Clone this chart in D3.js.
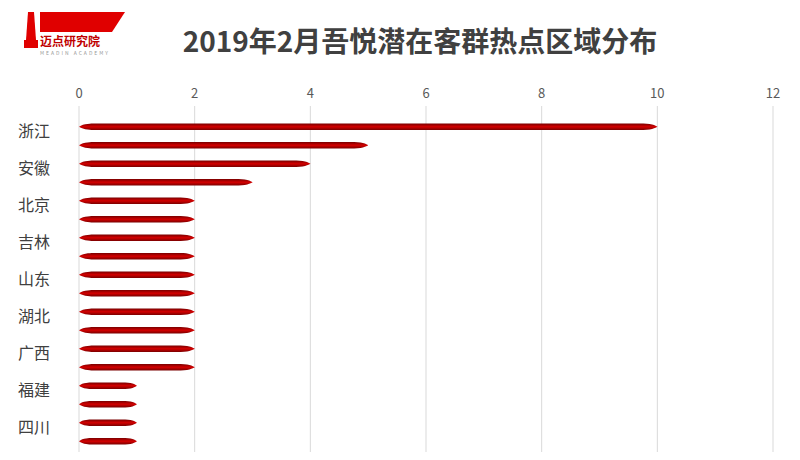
<!DOCTYPE html>
<html><head><meta charset="utf-8">
<script src="https://cdn.jsdelivr.net/npm/d3@7"></script>
<style>body{margin:0;background:#fff}svg{font-family:"Noto Sans CJK SC","Noto Sans",sans-serif}</style>
</head><body><svg id="c" width="800" height="460"></svg>
<script>
const categories=["浙江","江苏","安徽","上海","北京","河南","吉林","辽宁","山东","河北","湖北","湖南","广西","广东","福建","江西","四川","重庆"];
const values=[10,5,4,3,2,2,2,2,2,2,2,2,2,2,1,1,1,1];
const tickValues=[0,2,4,6,8,10,12];
const title="2019年2月吾悦潜在客群热点区域分布";

const svg=d3.select("#c");
const x=d3.scaleLinear().domain([0,12]).range([79,773]);
const y=d3.scaleBand().domain(categories).range([118,450]).paddingInner(0.65).paddingOuter(0.3);

const defs=svg.append("defs");
const g=defs.append("linearGradient").attr("id","bg").attr("x1",0).attr("y1",0).attr("x2",0).attr("y2",1);
g.append("stop").attr("offset","0%").attr("stop-color","#7a0000");
g.append("stop").attr("offset","50%").attr("stop-color","#d40000");
g.append("stop").attr("offset","100%").attr("stop-color","#7a0000");

svg.append("g").selectAll("line").data(tickValues).join("line")
 .attr("x1",d=>x(d)).attr("x2",d=>x(d)).attr("y1",106).attr("y2",452)
 .attr("stroke","#d9d9d9").attr("stroke-width",1);
svg.append("g").selectAll("text").data(tickValues).join("text")
 .attr("x",d=>x(d)).attr("y",98).attr("text-anchor","middle")
 .attr("font-size",13).attr("fill","#595959").text(d=>d);

svg.append("g").selectAll("path").data(values).join("path")
 .attr("fill","url(#bg)")
 .attr("d",(d,i)=>{
   const x0=x(0),x1=x(d),yc=y(categories[i])+y.bandwidth()/2,h=y.bandwidth()/2;
   const t=Math.min(14,(x1-x0)*0.2);
   return `M${x0},${yc} C${x0+t*0.3},${yc-h} ${x0+t},${yc-h} ${x0+t},${yc-h} L${x1-t},${yc-h} C${x1-t*0.3},${yc-h} ${x1},${yc} ${x1},${yc} C${x1},${yc} ${x1-t*0.3},${yc+h} ${x1-t},${yc+h} L${x0+t},${yc+h} C${x0+t},${yc+h} ${x0+t*0.3},${yc+h} ${x0},${yc}Z`;
 });

svg.append("g").selectAll("text").data(categories.filter((c,i)=>i%2===0)).join("text")
 .attr("x",18).attr("y",d=>y(d)+y.bandwidth()/2+10).attr("font-size",16).attr("fill","#404040").text(d=>d);

svg.append("text").attr("x",420).attr("y",52).attr("text-anchor","middle")
 .attr("font-size",28).attr("font-weight","bold").attr("fill","#404040").text(title);

// logo
const lg=svg.append("g");
lg.append("path").attr("d","M40,12 L125,12 L112,32 L40,32Z").attr("fill","#e00000");
lg.append("path").attr("d","M28,12 L34,12 L36,40 L26,40Z").attr("fill","#e00000");
lg.append("rect").attr("x",24).attr("y",40).attr("width",14).attr("height",8).attr("fill","#e00000");
lg.append("text").attr("x",40).attr("y",46).attr("font-size",12).attr("font-weight","bold").attr("fill","#c00000").text("迈点研究院");
lg.append("text").attr("x",40).attr("y",55).attr("font-size",5).attr("fill","#999").attr("letter-spacing",2).text("MEADIN ACADEMY");
</script></body></html>
